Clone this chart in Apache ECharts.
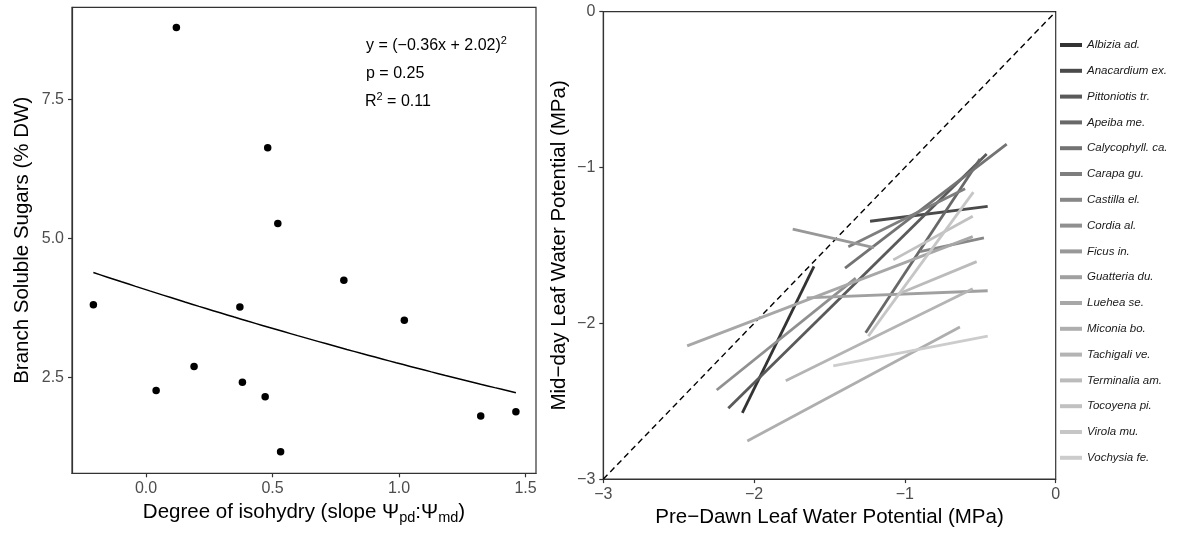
<!DOCTYPE html>
<html>
<head>
<meta charset="utf-8">
<script src="https://cdn.jsdelivr.net/npm/echarts@6/dist/echarts.min.js"></script>
<style>
  html, body { margin: 0; padding: 0; background: #fff; }
  #chart { width: 1181px; height: 533px; }
</style>
</head>
<body>
<div id="chart"></div>
<script>
// Left panel: branch soluble sugars against degree of isohydry
const isohydry = [-0.208, 0.120, 0.040, 0.190, 0.371, 0.381, 0.471, 0.481, 0.521, 0.532, 0.782, 1.021, 1.323, 1.462];
const sugars   = [3.81, 8.79, 2.27, 2.70, 3.77, 2.42, 2.16, 6.63, 5.27, 1.17, 4.25, 3.53, 1.81, 1.89];
// fitted model y = (a*x + b)^2 and its statistics
const fitCoef = [-0.36, 2.02];
const fitP = 0.25;
const fitR2 = 0.11;
const leftXTicks = [0, 0.5, 1.0, 1.5];
const leftYTicks = [2.5, 5.0, 7.5];

// Right panel: pre-dawn vs mid-day leaf water potential (MPa), dry -> wet end of each species segment
const species = ['Albizia ad.', 'Anacardium ex.', 'Pittoniotis tr.', 'Apeiba me.', 'Calycophyll. ca.',
  'Carapa gu.', 'Castilla el.', 'Cordia al.', 'Ficus in.', 'Guatteria du.', 'Luehea se.',
  'Miconia bo.', 'Tachigali ve.', 'Terminalia am.', 'Tocoyena pi.', 'Virola mu.', 'Vochysia fe.'];
const pdStart = [-2.078, -1.231, -2.171, -1.260, -1.397, -1.375, -0.900, -2.248, -1.744, -1.651, -2.444, -2.045, -1.790, -1.040, -1.077, -1.243, -1.475];
const mdStart = [-2.575, -1.345, -2.545, -2.061, -1.646, -1.508, -1.540, -2.428, -1.396, -1.837, -2.145, -2.755, -2.368, -1.810, -1.593, -2.082, -2.273];
const pdEnd   = [-1.603, -0.451, -0.458, -0.502, -0.325, -0.601, -0.476, -1.326, -1.205, -0.451, -0.550, -0.635, -0.550, -0.524, -0.550, -0.546, -0.451];
const mdEnd   = [-1.635, -1.249, -0.913, -0.945, -0.850, -1.136, -1.451, -1.710, -1.515, -1.791, -1.444, -2.024, -1.778, -1.604, -1.313, -1.158, -2.082];

// grey ramp, dark to light (one shade per species)
const greys = [51, 74, 90, 104, 115, 126, 135, 144, 152, 160, 167, 174, 180, 187, 193, 198, 204]
  .map(g => 'rgb(' + g + ',' + g + ',' + g + ')');

const FONT = '"Liberation Sans", Arial, Helvetica, sans-serif';
const AXIS_COLOR = '#333';
const TICK_TEXT = '#4d4d4d';
const TITLE_SIZE = 20.5;
const minus = v => (v < 0 ? '\u2212' + Math.abs(v) : String(v));

// curve of the stated model across the observed isohydry range
const xLo = Math.min(...isohydry), xHi = Math.max(...isohydry);
const fitCurve = [];
for (let i = 0; i <= 60; i++) {
  const x = xLo + (xHi - xLo) * i / 60;
  const r = fitCoef[0] * x + fitCoef[1];
  fitCurve.push([x, r * r]);
}

const fmtCoef = v => (v < 0 ? '\u2212' : '') + Math.abs(v).toFixed(2);

const chart = echarts.init(document.getElementById('chart'), null, { renderer: 'canvas' });

const axisCommon = {
  type: 'value',
  axisLine: { show: true, onZero: false, lineStyle: { color: AXIS_COLOR, width: 1.2 } },
  axisTick: { show: true, length: 4, lineStyle: { color: AXIS_COLOR, width: 1.2 } },
  splitLine: { show: false },
  nameLocation: 'middle',
  nameTextStyle: { color: '#000', fontSize: TITLE_SIZE, fontFamily: FONT }
};

const speciesSeries = species.map((name, i) => ({
  name: name,
  type: 'line',
  xAxisIndex: 1,
  yAxisIndex: 1,
  data: [[pdStart[i], mdStart[i]], [pdEnd[i], mdEnd[i]]],
  showSymbol: false,
  symbol: 'none',
  color: greys[i],
  itemStyle: { color: greys[i] },
  lineStyle: { color: greys[i], width: 2.8 },
  z: 3 + i * 0.01
}));

const option = {
  animation: false,
  backgroundColor: '#fff',
  textStyle: { fontFamily: FONT },
  grid: [
    { left: 72, top: 7.3, width: 464, height: 466, show: true, borderColor: AXIS_COLOR, borderWidth: 1.2 },
    { left: 603.3, top: 11.7, width: 452.4, height: 470.6, show: true, borderColor: AXIS_COLOR, borderWidth: 1.2 }
  ],
  xAxis: [
    Object.assign({}, axisCommon, {
      gridIndex: 0, min: -0.2925, max: 1.5415,
      axisTick: Object.assign({}, axisCommon.axisTick, { customValues: leftXTicks }),
      axisLabel: { customValues: leftXTicks, formatter: v => Number(v).toFixed(1), color: TICK_TEXT, fontSize: 16, margin: 7, fontFamily: FONT },
      name: '{t|Degree of isohydry (slope \u03A8}{s|pd}{t|:\u03A8}{s|md}{t|)}',
      nameGap: 27,
      nameTextStyle: {
        color: '#000', fontSize: TITLE_SIZE, fontFamily: FONT,
        rich: {
          t: { fontSize: TITLE_SIZE, color: '#000', fontFamily: FONT },
          s: { fontSize: 14.5, color: '#000', fontFamily: FONT, padding: [10, 0, 0, 0] }
        }
      }
    }),
    Object.assign({}, axisCommon, {
      gridIndex: 1, min: -3, max: 0, interval: 1,
      axisLabel: { formatter: minus, color: TICK_TEXT, fontSize: 16, margin: 7, fontFamily: FONT, showMinLabel: true, showMaxLabel: true },
      name: 'Pre\u2212Dawn Leaf Water Potential (MPa)',
      nameGap: 26
    })
  ],
  yAxis: [
    Object.assign({}, axisCommon, {
      gridIndex: 0, min: 0.783, max: 9.152,
      axisTick: Object.assign({}, axisCommon.axisTick, { customValues: leftYTicks }),
      axisLabel: { customValues: leftYTicks, formatter: v => Number(v).toFixed(1), color: TICK_TEXT, fontSize: 16, margin: 8, fontFamily: FONT },
      name: 'Branch Soluble Sugars (% DW)',
      nameGap: 39
    }),
    Object.assign({}, axisCommon, {
      gridIndex: 1, min: -3, max: 0, interval: 1,
      axisLabel: { formatter: minus, color: TICK_TEXT, fontSize: 16, margin: 8, fontFamily: FONT, showMinLabel: true, showMaxLabel: true },
      name: 'Mid\u2212day Leaf Water Potential (MPa)',
      nameGap: 33
    })
  ],
  legend: {
    data: species,
    orient: 'vertical',
    left: 1060,
    top: 38,
    icon: 'rect',
    itemWidth: 22,
    itemHeight: 4,
    itemGap: 11.8,
    padding: 0,
    selectedMode: false,
    textStyle: { fontSize: 11.5, fontStyle: 'italic', color: '#1a1a1a', lineHeight: 14, fontFamily: FONT }
  },
  graphic: [
    {
      type: 'text', x: 366, y: 46, silent: true,
      style: {
        text: '{a|y = (' + fmtCoef(fitCoef[0]) + 'x + ' + fmtCoef(fitCoef[1]) + ')}{s|2}',
        verticalAlign: 'middle',
        rich: {
          a: { fontSize: 16, fill: '#000', fontFamily: FONT },
          s: { fontSize: 11, fill: '#000', fontFamily: FONT, padding: [0, 0, 10, 0] }
        }
      }
    },
    {
      type: 'text', x: 366, y: 74, silent: true,
      style: { text: 'p = ' + fitP.toFixed(2), fontSize: 16, fill: '#000', fontFamily: FONT, verticalAlign: 'middle' }
    },
    {
      type: 'text', x: 365, y: 101.7, silent: true,
      style: {
        text: '{a|R}{s|2}{a| = ' + fitR2.toFixed(2) + '}',
        verticalAlign: 'middle',
        rich: {
          a: { fontSize: 16, fill: '#000', fontFamily: FONT },
          s: { fontSize: 11, fill: '#000', fontFamily: FONT, padding: [0, 0, 10, 0] }
        }
      }
    }
  ],
  series: [
    {
      type: 'scatter',
      xAxisIndex: 0, yAxisIndex: 0,
      data: isohydry.map((x, i) => [x, sugars[i]]),
      symbolSize: 7.5,
      itemStyle: { color: '#000', opacity: 1 },
      z: 4
    },
    {
      type: 'line',
      xAxisIndex: 0, yAxisIndex: 0,
      data: fitCurve,
      showSymbol: false, symbol: 'none',
      lineStyle: { color: '#000', width: 1.5 },
      z: 3
    },
    {
      type: 'line',
      xAxisIndex: 1, yAxisIndex: 1,
      data: [[-3, -3], [0, 0]],
      showSymbol: false, symbol: 'none',
      lineStyle: { color: '#000', width: 1.4, type: [6, 4] },
      z: 2
    }
  ].concat(speciesSeries)
};

chart.setOption(option);
</script>
</body>
</html>
